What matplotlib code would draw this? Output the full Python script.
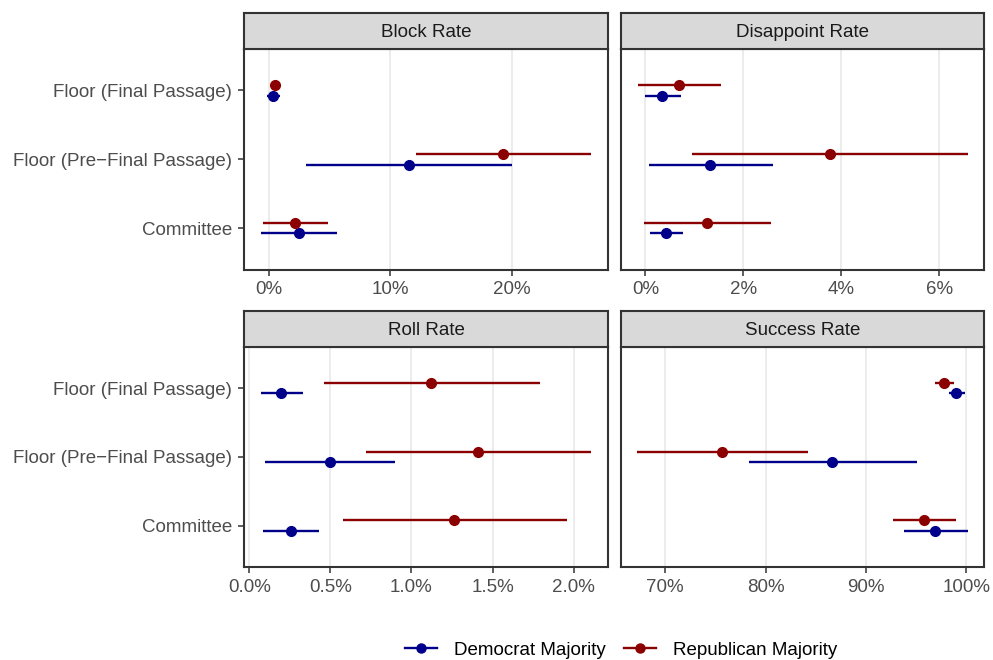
import numpy as np
import matplotlib.pyplot as plt
from matplotlib.ticker import FuncFormatter
from matplotlib.lines import Line2D

plt.rcParams['font.family'] = ['Liberation Sans', 'DejaVu Sans']

categories = ['Committee', 'Floor (Pre\u2212Final Passage)', 'Floor (Final Passage)']
panels = ['Block Rate', 'Disappoint Rate', 'Roll Rate', 'Success Rate']

# values in percent, order: Committee, Pre-Final, Final
dem_est = {'Block Rate': [2.46, 11.55, 0.36],
           'Disappoint Rate': [0.42, 1.33, 0.35],
           'Roll Rate': [0.255, 0.50, 0.196],
           'Success Rate': [96.87, 86.65, 98.98]}
dem_low = {'Block Rate': [-0.68, 3.08, -0.19],
           'Disappoint Rate': [0.10, 0.08, 0.0],
           'Roll Rate': [0.084, 0.10, 0.07],
           'Success Rate': [93.8, 78.3, 98.26]}
dem_high = {'Block Rate': [5.6, 20.0, 0.96],
            'Disappoint Rate': [0.76, 2.60, 0.72],
            'Roll Rate': [0.43, 0.90, 0.33],
            'Success Rate': [100.13, 95.06, 99.9]}
rep_est = {'Block Rate': [2.18, 19.3, 0.47],
           'Disappoint Rate': [1.25, 3.77, 0.68],
           'Roll Rate': [1.265, 1.41, 1.12],
           'Success Rate': [95.78, 75.67, 97.8]}
rep_low = {'Block Rate': [-0.46, 12.15, 0.30],
           'Disappoint Rate': [-0.03, 0.96, -0.16],
           'Roll Rate': [0.58, 0.72, 0.46],
           'Success Rate': [92.68, 67.23, 96.84]}
rep_high = {'Block Rate': [4.86, 26.55, 0.65],
            'Disappoint Rate': [2.56, 6.58, 1.54],
            'Roll Rate': [1.96, 2.11, 1.79],
            'Success Rate': [99.0, 84.24, 98.82]}

x_ticks = {'Block Rate': [0, 10, 20],
           'Disappoint Rate': [0, 2, 4, 6],
           'Roll Rate': [0, 0.5, 1.0, 1.5, 2.0],
           'Success Rate': [70, 80, 90, 100]}
tick_fmt = {'Block Rate': '{:.0f}%', 'Disappoint Rate': '{:.0f}%',
            'Roll Rate': '{:.1f}%', 'Success Rate': '{:.0f}%'}

dem_col = '#00008B'
rep_col = '#8B0000'
W, H = 993, 660

fig = plt.figure(figsize=(W / 100, H / 100), dpi=100)

# panel boxes in pixels: (left, right) and (strip_top, panel_top, panel_bottom)
cols = [(244, 608), (621, 984)]
rows = [(12.5, 49, 269.5), (311, 347, 566.7)]

y = np.arange(len(categories))
dodge = 0.077

for i, name in enumerate(panels):
    l, r = cols[i % 2]
    st, pt, pb = rows[i // 2]
    ax = fig.add_axes([l / W, 1 - pb / H, (r - l) / W, (pb - pt) / H])
    sax = fig.add_axes([l / W, 1 - pt / H, (r - l) / W, (pt - st) / H])

    for est, lo, hi, col, off in [(dem_est, dem_low, dem_high, dem_col, -dodge),
                                  (rep_est, rep_low, rep_high, rep_col, dodge)]:
        e = np.array(est[name])
        ax.errorbar(e, y + off,
                    xerr=[e - np.array(lo[name]), np.array(hi[name]) - e],
                    fmt='o', color=col, ms=7, elinewidth=1.7, capsize=0, zorder=3)

    ax.set_ylim(-0.6, 2.6)
    ax.margins(x=0.05)
    ax.set_xticks(x_ticks[name])
    fmt = tick_fmt[name]
    ax.xaxis.set_major_formatter(FuncFormatter(lambda v, p, f=fmt: f.format(v)))
    ax.grid(axis='x', color='#EBEBEB', linewidth=1.3)
    ax.set_axisbelow(True)
    for s in ax.spines.values():
        s.set_color('#333333')
        s.set_linewidth(1.5)
    ax.tick_params(axis='both', colors='#333333', length=4.5, width=1.1,
                   labelsize=13.5, labelcolor='#4D4D4D', pad=4)
    ax.set_yticks(y)
    if i % 2 == 0:
        ax.set_yticklabels(categories)
    else:
        ax.set_yticklabels([])
        ax.tick_params(axis='y', length=0)

    sax.set_facecolor('#D9D9D9')
    sax.set_xticks([])
    sax.set_yticks([])
    for s in sax.spines.values():
        s.set_color('#333333')
        s.set_linewidth(1.5)
    sax.text(0.5, 0.45, name, ha='center', va='center', fontsize=13.5,
             color='#1A1A1A', transform=sax.transAxes)

handles = [Line2D([], [], color=dem_col, marker='o', ms=6.5, lw=1.7),
           Line2D([], [], color=rep_col, marker='o', ms=6.5, lw=1.7)]
fig.legend(handles, ['Democrat Majority', 'Republican Majority'], loc='center',
           bbox_to_anchor=(621 / W, 1 - 650 / H), ncol=2, frameon=False,
           fontsize=13.5, handlelength=1.7, handletextpad=0.9, columnspacing=1.0)

fig.savefig('out.png', dpi=100)
